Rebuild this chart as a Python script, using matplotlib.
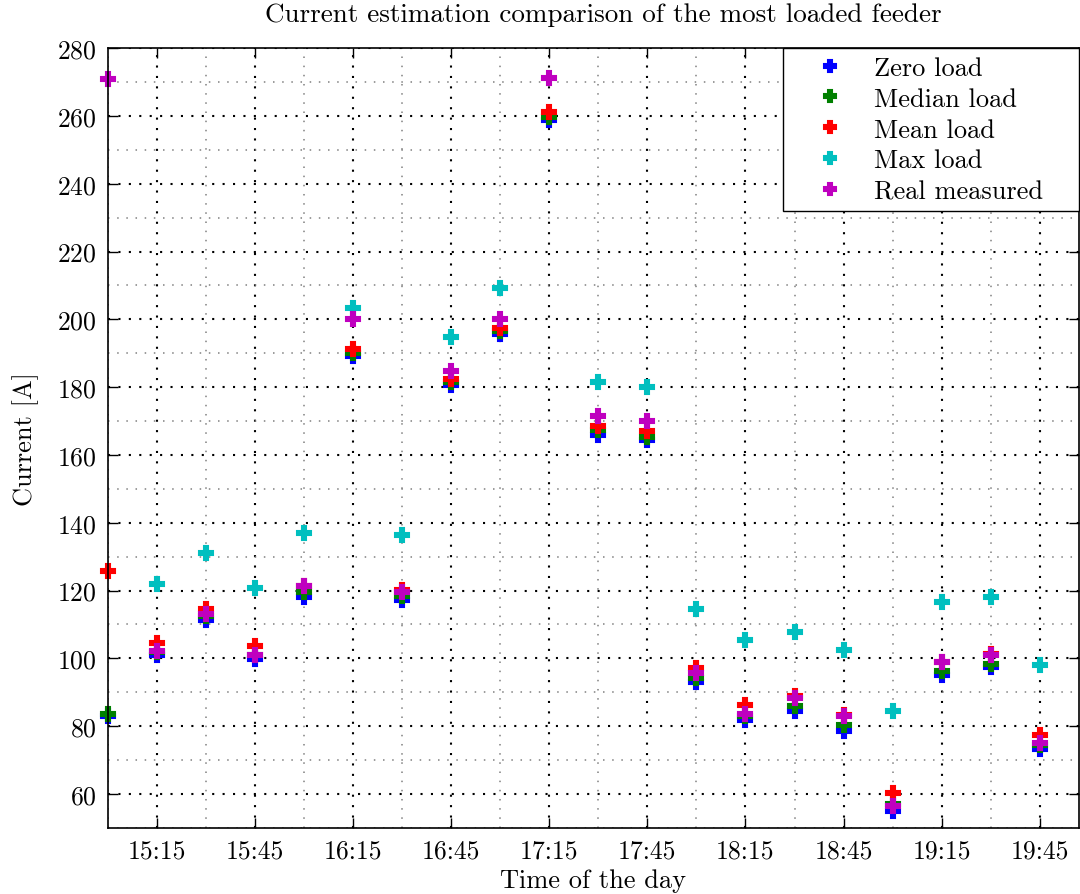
import numpy as np
import matplotlib
matplotlib.use('Agg')
import matplotlib.pyplot as plt
from matplotlib.ticker import MultipleLocator, FuncFormatter

times = ['15:00', '15:15', '15:30', '15:45', '16:00', '16:15', '16:30', '16:45',
         '17:00', '17:15', '17:30', '17:45', '18:00', '18:15', '18:30', '18:45',
         '19:00', '19:15', '19:30', '19:45']

zero_load = [83, 101, 111.4, 99.8, 118.2, 189.3, 117.2, 180.5, 195.8, 258.8,
             166.0, 164.3, 93, 81.9, 84.4, 78.6, 54.9, 95, 97.3, 73.3]
median_load = [83.7, 101.8, 112.5, 101, 119.7, 190, 118.5, 181.5, 196.5, 259.8,
               167.3, 165.3, 94.2, 83, 85.8, 80.4, 57, 96.3, 98.3, 74.5]
mean_load = [125.7, 104.5, 114.6, 103.5, 121.3, 191.4, 120.2, 182.5, 197.5, 261.2,
             168.5, 167, 97, 86.3, 88.9, 83.3, 60.3, 99, 101.3, 77.3]
max_load = [np.nan, 121.8, 131, 120.7, 136.9, 203.3, 136.3, 194.9, 209.3, np.nan,
            181.4, 180.1, 114.6, 105.5, 107.7, 102.5, 84.5, 116.6, 118.1, 98.1]
real_measured = [271, 102.2, 113, 101, 121.3, 200.2, 119.7, 184.9, 200.2, 271.2,
                 171.4, 170, 95.8, 83.6, 88.3, 83, 56.4, 98.9, 100.9, 75]

series = [('Zero load', zero_load, 'b'),
          ('Median load', median_load, 'g'),
          ('Mean load', mean_load, 'r'),
          ('Max load', max_load, 'c'),
          ('Real measured', real_measured, 'm')]

plt.rcParams['font.family'] = 'cmr10'
plt.rcParams['mathtext.fontset'] = 'cm'
plt.rcParams['axes.formatter.use_mathtext'] = True

x = np.array([int(t[:2]) * 60 + int(t[3:]) for t in times])

fig = plt.figure(figsize=(10.8, 8.95), dpi=100)
ax = fig.add_axes([0.1, 0.074, 0.899, 0.871])

for name, vals, col in series:
    ax.plot(x, vals, linestyle='none', marker='P', markersize=10, color=col,
            markeredgewidth=1.5, markeredgecolor=col, label=name, clip_on=False)

ax.set_xlim(x[0], x[0] + 297)
ax.set_ylim(50, 280)
ax.xaxis.set_minor_locator(MultipleLocator(15))
ax.set_xticks(np.arange(x[1], x[-1] + 1, 30))
ax.xaxis.set_major_formatter(FuncFormatter(lambda v, p: '%d:%02d' % (v // 60, v % 60)))
ax.yaxis.set_major_locator(MultipleLocator(20))
ax.yaxis.set_minor_locator(MultipleLocator(10))

ax.grid(which='major', color='k', linestyle=(0, (1, 4)), linewidth=1.5)
ax.grid(which='minor', color='0.5', linestyle=(0, (1, 5)), linewidth=1.1)
ax.tick_params(which='major', direction='in', length=7, width=1, top=True, right=True,
               labelsize=18.5, pad=8)
ax.tick_params(which='minor', length=0)
for s in ax.spines.values():
    s.set_linewidth(1.2)

ax.set_xlabel('Time of the day', fontsize=19, labelpad=4)
ax.set_ylabel('Current [A]', fontsize=19, labelpad=13)
fig.text(0.559, 0.983, 'Current estimation comparison of the most loaded feeder',
         fontsize=19.5, ha='center', va='center')

leg = ax.legend(loc='upper right', bbox_to_anchor=(0.695, 0.0, 0.305, 1.0), mode='expand',
                numpoints=1, fontsize=19, fancybox=False, edgecolor='k', framealpha=1,
                borderaxespad=0, handlelength=3.0, handletextpad=0.15,
                labelspacing=0.27, borderpad=0.3, markerscale=0.8)
leg.get_frame().set_linewidth(1.0)

fig.savefig('out.png', dpi=100)
